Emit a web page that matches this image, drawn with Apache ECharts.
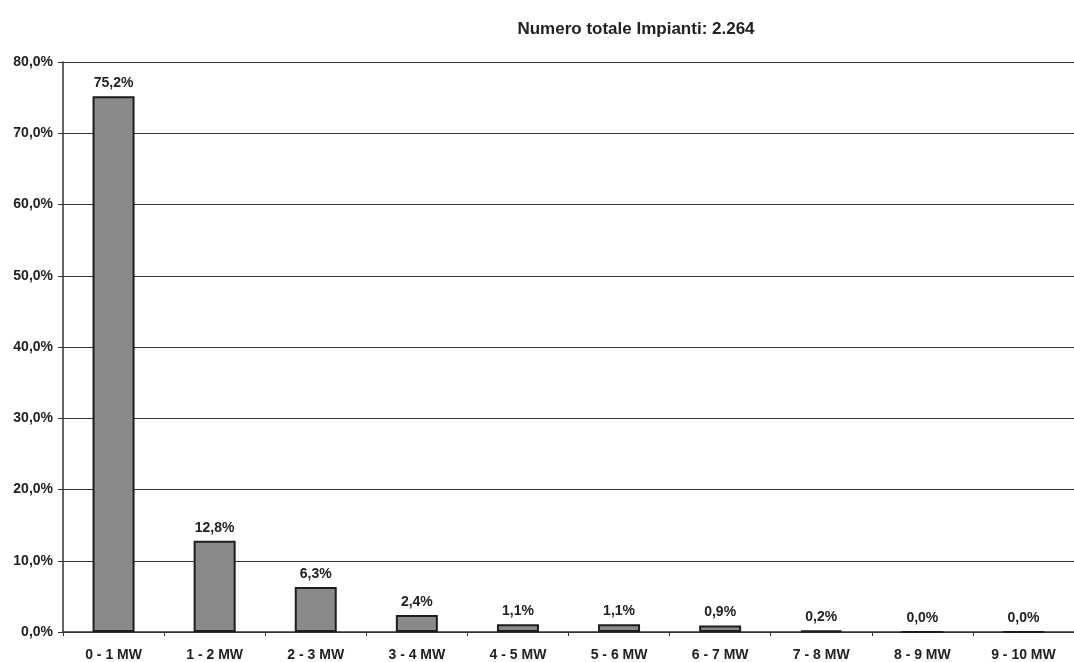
<!DOCTYPE html>
<html>
<head>
<meta charset="utf-8">
<script src="https://cdn.jsdelivr.net/npm/echarts@6/dist/echarts.min.js"></script>
<style>
  html, body { margin: 0; padding: 0; background: #fff; }
  #chart { width: 1074px; height: 662px; }
</style>
</head>
<body>
<div id="chart"></div>
<script>
const categories = ["0 - 1 MW", "1 - 2 MW", "2 - 3 MW", "3 - 4 MW", "4 - 5 MW",
  "5 - 6 MW", "6 - 7 MW", "7 - 8 MW", "8 - 9 MW", "9 - 10 MW"];
const shares = [75.2, 12.8, 6.3, 2.4, 1.1, 1.1, 0.9, 0.2, 0.0, 0.0];
const titleText = "Numero totale Impianti: 2.264";

const font = "'Liberation Sans', Arial, sans-serif";
// percent with italian comma
const pct = v => v.toFixed(1).replace(".", ",") + "%";

const chart = echarts.init(document.getElementById("chart"));
chart.setOption({
  animation: false,
  title: {
    text: titleText,
    left: 631,
    top: 16,
    textAlign: "center",
    textStyle: { fontFamily: font, fontSize: 17, fontWeight: "bold", color: "#222" }
  },
  grid: { left: 63, right: -6, top: 62, bottom: 30 },
  xAxis: {
    type: "category",
    data: categories,
    axisLine: { lineStyle: { color: "#333", width: 1.5 } },
    axisTick: { show: true, length: 4, lineStyle: { color: "#333" } },
    axisLabel: {
      interval: 0,
      margin: 16,
      fontFamily: font, fontSize: 14, fontWeight: "bold", color: "#222"
    }
  },
  yAxis: {
    type: "value",
    min: 0,
    max: 80,
    interval: 10,
    axisLine: { show: true, lineStyle: { color: "#333", width: 1.5 } },
    axisTick: { show: true, length: 5, lineStyle: { color: "#333" } },
    axisLabel: {
      margin: 10,
      formatter: v => pct(v),
      fontFamily: font, fontSize: 14, fontWeight: "bold", color: "#222"
    },
    splitLine: { lineStyle: { color: "#333", width: 1.2 } }
  },
  series: [{
    type: "bar",
    data: shares,
    barWidth: 42,
    itemStyle: { color: "#8a8a8a", borderColor: "#1e1e1e", borderWidth: 2 },
    label: {
      show: true,
      position: "top",
      distance: 6,
      formatter: p => pct(p.value),
      fontFamily: font, fontSize: 14, fontWeight: "bold", color: "#222"
    }
  }]
});
</script>
</body>
</html>
